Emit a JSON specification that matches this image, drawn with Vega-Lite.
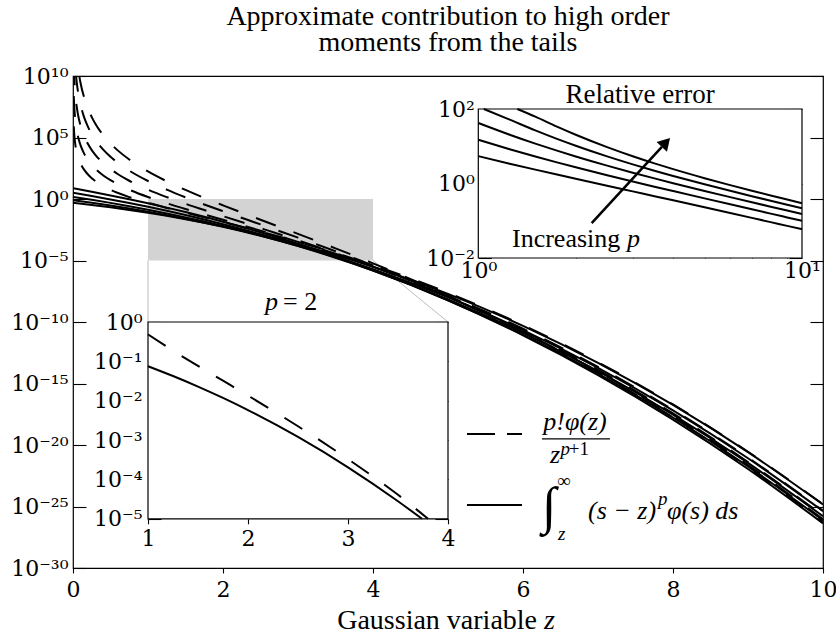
{
"$schema":"https://vega.github.io/schema/vega-lite/v6.json",
"width":750,"height":492,
"autosize":{"type":"none"},
"padding":{"left":73,"top":76,"right":13,"bottom":69},
"background":"white",
"config":{
 "view":{"stroke":"black","strokeWidth":1.2},
 "font":"Liberation Serif",
 "axis":{"labelFont":"DejaVu Serif","labelFontSize":22,"labelColor":"black","tickColor":"black","tickWidth":1.1,"domain":false,"grid":false,"zindex":1,"labelFlush":false,"labelOverlap":false,"labelBound":false},
 "text":{"font":"Liberation Serif","fontSize":26,"color":"black"},
 "title":{"font":"Liberation Serif","fontSize":28,"fontWeight":"normal","color":"black"}
},
"title":{"text":["Approximate contribution to high order","moments from the tails"],"anchor":"middle","frame":"group","offset":-20,"lineHeight":26,"baseline":"bottom"},
"data":{"values":[{}]},
"datasets":{
"mainExact":[
{"z":0,"v":0.5,"p":2},{"z":0.25,"v":0.329709,"p":2},{"z":0.5,"v":0.209639,"p":2},{"z":0.75,"v":0.128253,"p":2},{"z":1,"v":0.07534,"p":2},{"z":1.25,"v":0.042417,"p":2},{"z":1.5,"v":0.022847,"p":2},{"z":1.75,"v":0.011754,"p":2},{"z":2,"v":0.0057687,"p":2},{"z":2.5,"v":0.00119932,"p":2},{"z":3,"v":2.03437e-4,"p":2},{"z":3.5,"v":2.79459e-5,"p":2},{"z":4,"v":3.0902e-6,"p":2},{"z":5,"v":1.93433e-8,"p":2},{"z":6,"v":4.84457e-11,"p":2},{"z":7,"v":4.75846e-14,"p":2},{"z":8,"v":1.80751e-17,"p":2},{"z":9,"v":2.6287e-21,"p":2},{"z":10,"v":1.45293e-25,"p":2},
{"z":0,"v":0.797885,"p":3},{"z":0.25,"v":0.490261,"p":3},{"z":0.5,"v":0.290774,"p":3},{"z":0.75,"v":0.166143,"p":3},{"z":1,"v":0.09129,"p":3},{"z":1.25,"v":0.048153,"p":3},{"z":1.5,"v":0.024343,"p":3},{"z":1.75,"v":0.011778,"p":3},{"z":2,"v":0.005444,"p":3},{"z":2.5,"v":0.00100998,"p":3},{"z":3,"v":1.54003e-4,"p":3},{"z":3.5,"v":1.91514e-5,"p":3},{"z":4,"v":1.92969e-6,"p":3},{"z":5,"v":1.02068e-8,"p":3},{"z":6,"v":2.20393e-11,"p":3},{"z":7,"v":1.8975e-14,"p":3},{"z":8,"v":6.40476e-18,"p":3},{"z":9,"v":8.37151e-22,"p":3},{"z":10,"v":4.19841e-26,"p":3},
{"z":0,"v":1.5,"p":4},{"z":0.25,"v":0.86656,"p":4},{"z":0.5,"v":0.483529,"p":4},{"z":0.75,"v":0.260151,"p":4},{"z":1,"v":0.134728,"p":4},{"z":1.25,"v":0.067059,"p":4},{"z":1.5,"v":0.032027,"p":4},{"z":1.75,"v":0.014651,"p":4},{"z":2,"v":0.0064183,"p":4},{"z":2.5,"v":0.00107303,"p":4},{"z":3,"v":1.48296e-4,"p":4},{"z":3.5,"v":1.6808e-5,"p":4},{"z":4,"v":1.55188e-6,"p":4},{"z":5,"v":6.99569e-9,"p":4},{"z":6,"v":1.31012e-11,"p":4},{"z":7,"v":9.92915e-15,"p":4},{"z":8,"v":2.98736e-18,"p":4},{"z":9,"v":3.51749e-22,"p":4},{"z":10,"v":1.60345e-26,"p":4},
{"z":0,"v":3.19154,"p":5},{"z":0.25,"v":1.744406,"p":5},{"z":0.5,"v":0.92133,"p":5},{"z":0.75,"v":0.469459,"p":5},{"z":1,"v":0.230436,"p":5},{"z":1.25,"v":0.108786,"p":5},{"z":1.5,"v":0.04933,"p":5},{"z":1.75,"v":0.021472,"p":5},{"z":2,"v":0.0089393,"p":5},{"z":2.5,"v":0.00135731,"p":5},{"z":3,"v":1.71125e-4,"p":5},{"z":3.5,"v":1.77773e-5,"p":5},{"z":4,"v":1.51118e-6,"p":5},{"z":5,"v":5.84876e-9,"p":5},{"z":6,"v":9.55037e-12,"p":5},{"z":7,"v":6.39618e-15,"p":5},{"z":8,"v":1.72028e-18,"p":5},{"z":9,"v":1.82866e-22,"p":5},{"z":10,"v":7.5897e-27,"p":5},
{"z":0,"v":7.5,"p":6},{"z":0.25,"v":3.896697,"p":6},{"z":0.5,"v":1.956981,"p":6},{"z":0.75,"v":0.948661,"p":6},{"z":1,"v":0.443204,"p":6},{"z":1.25,"v":0.199313,"p":6},{"z":1.5,"v":0.086143,"p":6},{"z":1.75,"v":0.03568,"p":6},{"z":2,"v":0.0142129,"p":6},{"z":2.5,"v":0.00197185,"p":6},{"z":3,"v":2.28104e-4,"p":6},{"z":3.5,"v":2.18199e-5,"p":6},{"z":4,"v":1.71465e-6,"p":6},{"z":5,"v":5.73463e-9,"p":6},{"z":6,"v":8.20366e-12,"p":6},{"z":7,"v":4.87247e-15,"p":6},{"z":8,"v":1.1746e-18,"p":6},{"z":9,"v":1.12953e-22,"p":6},{"z":10,"v":4.27513e-27,"p":6}
],
"mainApprox":[
{"z":0.01,"v":797900,"p":2},{"z":0.02,"v":99715,"p":2},{"z":0.03,"v":29538,"p":2},{"z":0.05,"v":6375,"p":2},{"z":0.075,"v":1886,"p":2},{"z":0.1,"v":793.9,"p":2},{"z":0.15,"v":233.77,"p":2},{"z":0.2,"v":97.76,"p":2},{"z":0.25,"v":49.49,"p":2},{"z":0.3,"v":28.25,"p":2},{"z":0.4,"v":11.508,"p":2},{"z":0.5,"v":5.633,"p":2},{"z":0.6,"v":3.0854,"p":2},{"z":0.75,"v":1.4276,"p":2},{"z":1,"v":0.48394,"p":2},{"z":1.25,"v":0.18703,"p":2},{"z":1.5,"v":0.076751,"p":2},{"z":1.75,"v":0.032197,"p":2},{"z":2,"v":0.0134977,"p":2},{"z":2.5,"v":0.00224362,"p":2},{"z":3,"v":3.28285e-4,"p":2},{"z":3.5,"v":4.07082e-5,"p":2},{"z":4,"v":4.18219e-6,"p":2},{"z":5,"v":2.37875e-8,"p":2},{"z":6,"v":5.62581e-11,"p":2},{"z":7,"v":5.32637e-14,"p":2},{"z":8,"v":1.97354e-17,"p":2},{"z":9,"v":2.82025e-21,"p":2},{"z":10,"v":1.53892e-25,"p":2},
{"z":0.01,"v":2.39353e8,"p":3},{"z":0.02,"v":1.49573e7,"p":3},{"z":0.03,"v":2.9538e6,"p":3},{"z":0.05,"v":382506,"p":3},{"z":0.075,"v":75438,"p":3},{"z":0.1,"v":23817,"p":3},{"z":0.15,"v":4675.3,"p":3},{"z":0.2,"v":1466.4,"p":3},{"z":0.25,"v":593.92,"p":3},{"z":0.3,"v":282.51,"p":3},{"z":0.4,"v":86.31,"p":3},{"z":0.5,"v":33.798,"p":3},{"z":0.6,"v":15.427,"p":3},{"z":0.75,"v":5.71045,"p":3},{"z":1,"v":1.451824,"p":3},{"z":1.25,"v":0.44888,"p":3},{"z":1.5,"v":0.153503,"p":3},{"z":1.75,"v":0.055194,"p":3},{"z":2,"v":0.0202466,"p":3},{"z":2.5,"v":0.00269236,"p":3},{"z":3,"v":3.28285e-4,"p":3},{"z":3.5,"v":3.48927e-5,"p":3},{"z":4,"v":3.13664e-6,"p":3},{"z":5,"v":1.42725e-8,"p":3},{"z":6,"v":2.81291e-11,"p":3},{"z":7,"v":2.28273e-14,"p":3},{"z":8,"v":7.40078e-18,"p":3},{"z":9,"v":9.40083e-22,"p":3},{"z":10,"v":4.61676e-26,"p":3},
{"z":0.01,"v":9.57413e10,"p":4},{"z":0.02,"v":2.99147e9,"p":4},{"z":0.03,"v":3.9384e8,"p":4},{"z":0.05,"v":3.06005e7,"p":4},{"z":0.075,"v":4.02348e6,"p":4},{"z":0.1,"v":952687,"p":4},{"z":0.15,"v":124675,"p":4},{"z":0.2,"v":29328,"p":4},{"z":0.25,"v":9502.8,"p":4},{"z":0.3,"v":3766.8,"p":4},{"z":0.4,"v":863.13,"p":4},{"z":0.5,"v":270.39,"p":4},{"z":0.6,"v":102.85,"p":4},{"z":0.75,"v":30.4558,"p":4},{"z":1,"v":5.807297,"p":4},{"z":1.25,"v":1.43641,"p":4},{"z":1.5,"v":0.40934,"p":4},{"z":1.75,"v":0.126159,"p":4},{"z":2,"v":0.0404932,"p":4},{"z":2.5,"v":0.0043078,"p":4},{"z":3,"v":4.37713e-4,"p":4},{"z":3.5,"v":3.98774e-5,"p":4},{"z":4,"v":3.13664e-6,"p":4},{"z":5,"v":1.1418e-8,"p":4},{"z":6,"v":1.87527e-11,"p":4},{"z":7,"v":1.30443e-14,"p":4},{"z":8,"v":3.70039e-18,"p":4},{"z":9,"v":4.17811e-22,"p":4},{"z":10,"v":1.8467e-26,"p":4},
{"z":0.01,"v":4.78706e13,"p":5},{"z":0.02,"v":7.47866e11,"p":5},{"z":0.03,"v":6.564e10,"p":5},{"z":0.05,"v":3.06005e9,"p":5},{"z":0.075,"v":2.68226e8,"p":5},{"z":0.1,"v":4.76344e7,"p":5},{"z":0.15,"v":4.15583e6,"p":5},{"z":0.2,"v":733206,"p":5},{"z":0.25,"v":190055,"p":5},{"z":0.3,"v":62780,"p":5},{"z":0.4,"v":10789,"p":5},{"z":0.5,"v":2703.9,"p":5},{"z":0.6,"v":857.06,"p":5},{"z":0.75,"v":203.04,"p":5},{"z":1,"v":29.03649,"p":5},{"z":1.25,"v":5.74564,"p":5},{"z":1.5,"v":1.36447,"p":5},{"z":1.75,"v":0.360454,"p":5},{"z":2,"v":0.1012331,"p":5},{"z":2.5,"v":0.00861547,"p":5},{"z":3,"v":7.29521e-4,"p":5},{"z":3.5,"v":5.6968e-5,"p":5},{"z":4,"v":3.9208e-6,"p":5},{"z":5,"v":1.1418e-8,"p":5},{"z":6,"v":1.56273e-11,"p":5},{"z":7,"v":9.3172e-15,"p":5},{"z":8,"v":2.31274e-18,"p":5},{"z":9,"v":2.32117e-22,"p":5},{"z":10,"v":9.23352e-27,"p":5},
{"z":0.01,"v":2.87224e16,"p":6},{"z":0.02,"v":2.2436e14,"p":6},{"z":0.03,"v":1.3128e13,"p":6},{"z":0.05,"v":3.67206e11,"p":6},{"z":0.075,"v":2.14581e10,"p":6},{"z":0.1,"v":2.85806e9,"p":6},{"z":0.15,"v":1.66233e8,"p":6},{"z":0.2,"v":2.19962e7,"p":6},{"z":0.25,"v":4.56133e6,"p":6},{"z":0.3,"v":1.2556e6,"p":6},{"z":0.4,"v":161837,"p":6},{"z":0.5,"v":32446,"p":6},{"z":0.6,"v":8570.6,"p":6},{"z":0.75,"v":1624.33,"p":6},{"z":1,"v":174.2189,"p":6},{"z":1.25,"v":27.5791,"p":6},{"z":1.5,"v":5.45788,"p":6},{"z":1.75,"v":1.23583,"p":6},{"z":2,"v":0.3036992,"p":6},{"z":2.5,"v":0.020677,"p":6},{"z":3,"v":1.459042e-3,"p":6},{"z":3.5,"v":9.76588e-5,"p":6},{"z":4,"v":5.88121e-6,"p":6},{"z":5,"v":1.37015e-8,"p":6},{"z":6,"v":1.56273e-11,"p":6},{"z":7,"v":7.98634e-15,"p":6},{"z":8,"v":1.73456e-18,"p":6},{"z":9,"v":1.54746e-22,"p":6},{"z":10,"v":5.54011e-27,"p":6}
],
"in1Exact":[{"z":1,"v":0.07534},{"z":1.25,"v":0.042417},{"z":1.5,"v":0.022847},{"z":1.75,"v":0.011754},{"z":2,"v":0.0057687},{"z":2.5,"v":0.00119932},{"z":3,"v":2.03437e-4},{"z":3.5,"v":2.79459e-5},{"z":3.74,"v":1e-5}],
"in1Approx":[{"z":1,"v":0.48394},{"z":1.25,"v":0.18703},{"z":1.5,"v":0.076751},{"z":1.75,"v":0.032197},{"z":2,"v":0.0134977},{"z":2.5,"v":0.00224362},{"z":3,"v":3.28285e-4},{"z":3.5,"v":4.07082e-5},{"z":3.8,"v":1e-5}],
"relerr":[
{"z":1,"r":5.4234,"p":2},{"z":1.25,"r":3.4094,"p":2},{"z":1.5,"r":2.3593,"p":2},{"z":1.75,"r":1.7391,"p":2},{"z":2,"r":1.3398,"p":2},{"z":2.5,"r":0.87075,"p":2},{"z":3,"r":0.61371,"p":2},{"z":3.5,"r":0.45668,"p":2},{"z":4,"r":0.35337,"p":2},{"z":5,"r":0.22976,"p":2},{"z":6,"r":0.16125,"p":2},{"z":7,"r":0.11936,"p":2},{"z":8,"r":0.091855,"p":2},{"z":9,"r":0.072885,"p":2},{"z":10,"r":0.059188,"p":2},
{"z":1,"r":14.903,"p":3},{"z":1.25,"r":8.322,"p":3},{"z":1.5,"r":5.3059,"p":3},{"z":1.75,"r":3.6862,"p":3},{"z":2,"r":2.7191,"p":3},{"z":2.5,"r":1.6658,"p":3},{"z":3,"r":1.1317,"p":3},{"z":3.5,"r":0.82194,"p":3},{"z":4,"r":0.62547,"p":3},{"z":5,"r":0.39834,"p":3},{"z":6,"r":0.27631,"p":3},{"z":7,"r":0.20302,"p":3},{"z":8,"r":0.15551,"p":3},{"z":9,"r":0.12297,"p":3},{"z":10,"r":0.099645,"p":3},
{"z":1,"r":42.104,"p":4},{"z":1.25,"r":20.42,"p":4},{"z":1.5,"r":11.781,"p":4},{"z":1.75,"r":7.6107,"p":4},{"z":2,"r":5.3091,"p":4},{"z":2.5,"r":3.0146,"p":4},{"z":3,"r":1.9516,"p":4},{"z":3.5,"r":1.3725,"p":4},{"z":4,"r":1.0212,"p":4},{"z":5,"r":0.63215,"p":4},{"z":6,"r":0.43137,"p":4},{"z":7,"r":0.31372,"p":4},{"z":8,"r":0.23868,"p":4},{"z":9,"r":0.18782,"p":4},{"z":10,"r":0.1517,"p":4},
{"z":1.04,"r":100,"p":5},{"z":1.25,"r":51.816,"p":5},{"z":1.5,"r":26.66,"p":5},{"z":1.75,"r":15.787,"p":5},{"z":2,"r":10.325,"p":5},{"z":2.5,"r":5.3475,"p":5},{"z":3,"r":3.2631,"p":5},{"z":3.5,"r":2.2045,"p":5},{"z":4,"r":1.5945,"p":5},{"z":5,"r":0.95221,"p":5},{"z":6,"r":0.6363,"p":5},{"z":7,"r":0.45669,"p":5},{"z":8,"r":0.34441,"p":5},{"z":9,"r":0.26934,"p":5},{"z":10,"r":0.21659,"p":5},
{"z":1.32,"r":100,"p":6},{"z":1.5,"r":62.359,"p":6},{"z":1.75,"r":33.637,"p":6},{"z":2,"r":20.368,"p":6},{"z":2.5,"r":9.4862,"p":6},{"z":3,"r":5.3964,"p":6},{"z":3.5,"r":3.4757,"p":6},{"z":4,"r":2.43,"p":6},{"z":5,"r":1.38928,"p":6},{"z":6,"r":0.90492,"p":6},{"z":7,"r":0.63905,"p":6},{"z":8,"r":0.47673,"p":6},{"z":9,"r":0.37,"p":6},{"z":10,"r":0.29589,"p":6}
]
},
"resolve":{"scale":{"x":"independent","y":"independent"},"axis":{"x":"independent","y":"independent"}},
"layer":[
{"layer":[
 {"mark":{"type":"rect","color":"#d3d3d3"},
  "encoding":{
   "x":{"datum":1,"type":"quantitative","scale":{"domain":[0,10],"nice":false,"zero":false},"axis":{"orient":"bottom","values":[0,2,4,6,8,10],"format":"d","tickSize":5,"labelPadding":6,"title":null}},
   "x2":{"datum":4},
   "y":{"datum":1e-5,"type":"quantitative","scale":{"type":"log","domain":[1e-30,1e10],"nice":false},"axis":{"orient":"left","values":[1e-30,1e-25,1e-20,1e-15,1e-10,1e-5,1,1e5,1e10],"tickSize":-13,"labelPadding":18,"title":null,"labelExpr":"datum.value > 1e9 ? '10¹⁰' : datum.value > 1e4 ? '10⁵' : datum.value > 0.1 ? '10⁰' : datum.value > 1e-6 ? '10⁻⁵' : datum.value > 1e-11 ? '10⁻¹⁰' : datum.value > 1e-16 ? '10⁻¹⁵' : datum.value > 1e-21 ? '10⁻²⁰' : datum.value > 1e-26 ? '10⁻²⁵' : '10⁻³⁰'"}},
   "y2":{"datum":1}}},
 {"mark":{"type":"rule","color":"#bcbcbc","strokeWidth":1},"encoding":{"x":{"datum":1},"y":{"datum":1e-5},"x2":{"datum":1},"y2":{"datum":1e-10}}},
 {"mark":{"type":"rule","color":"#bcbcbc","strokeWidth":1},"encoding":{"x":{"datum":4},"y":{"datum":1e-5},"x2":{"datum":5},"y2":{"datum":1e-10}}},
 {"data":{"name":"mainExact"},"mark":{"type":"line","color":"black","strokeWidth":2,"clip":true,"interpolate":"monotone"},
  "encoding":{"x":{"field":"z","type":"quantitative"},"y":{"field":"v","type":"quantitative"},"detail":{"field":"p","type":"nominal"}}},
 {"data":{"name":"mainApprox"},"mark":{"type":"line","color":"black","strokeWidth":2,"clip":true,"interpolate":"monotone","strokeDash":[21,19]},
  "encoding":{"x":{"field":"z","type":"quantitative"},"y":{"field":"v","type":"quantitative"},"detail":{"field":"p","type":"nominal"}}},
 {"mark":{"type":"rule","color":"black","strokeWidth":2,"strokeDash":[28,12]},"encoding":{"x":{"datum":5.253},"x2":{"datum":5.987},"y":{"datum":7.83e-20}}},
 {"mark":{"type":"rule","color":"black","strokeWidth":2},"encoding":{"x":{"datum":5.253},"x2":{"datum":5.987},"y":{"datum":1.32e-25}}},
 {"mark":{"type":"text","text":"p!φ(z)","fontStyle":"italic","align":"center","baseline":"alphabetic"},"encoding":{"x":{"datum":6.693},"y":{"datum":1.66e-19}}},
 {"mark":{"type":"rule","color":"black","strokeWidth":1.3},"encoding":{"x":{"datum":6.253},"x2":{"datum":7.16},"y":{"datum":3.09e-20}}},
 {"mark":{"type":"text","text":"z","fontStyle":"italic","align":"left","baseline":"alphabetic"},"encoding":{"x":{"datum":6.36},"y":{"datum":3.46e-22}}},
 {"mark":{"type":"text","text":"p","fontStyle":"italic","align":"left","baseline":"alphabetic","fontSize":19},"encoding":{"x":{"datum":6.5},"y":{"datum":1.55e-21}}},
 {"mark":{"type":"text","text":"+1","align":"left","baseline":"alphabetic","fontSize":19},"encoding":{"x":{"datum":6.61},"y":{"datum":1.55e-21}}},
 {"mark":{"type":"text","text":"∫","align":"center","baseline":"middle","fontSize":52},"encoding":{"x":{"datum":6.347},"y":{"datum":9.1e-26}}},
 {"mark":{"type":"text","text":"∞","align":"left","baseline":"alphabetic","fontSize":19},"encoding":{"x":{"datum":6.453},"y":{"datum":3.9e-24}}},
 {"mark":{"type":"text","text":"z","fontStyle":"italic","align":"left","baseline":"alphabetic","fontSize":19},"encoding":{"x":{"datum":6.467},"y":{"datum":1.9e-28}}},
 {"mark":{"type":"text","text":"(s − z)","fontStyle":"italic","align":"left","baseline":"alphabetic"},"encoding":{"x":{"datum":6.867},"y":{"datum":1.05e-26}}},
 {"mark":{"type":"text","text":"p","fontStyle":"italic","align":"left","baseline":"alphabetic","fontSize":19},"encoding":{"x":{"datum":7.8},"y":{"datum":1.3e-25}}},
 {"mark":{"type":"text","text":"φ(s) ds","fontStyle":"italic","align":"left","baseline":"alphabetic"},"encoding":{"x":{"datum":7.92},"y":{"datum":1.05e-26}}},
 {"mark":{"type":"text","text":"Gaussian variable","align":"right","baseline":"alphabetic","fontSize":28},"encoding":{"x":{"datum":6.187},"y":{"datum":1.1e-35}}},
 {"mark":{"type":"text","text":"z","fontStyle":"italic","align":"left","baseline":"alphabetic","fontSize":28},"encoding":{"x":{"datum":6.28},"y":{"datum":1.1e-35}}}
]},
{"mark":{"type":"point","opacity":0},
 "encoding":{"y":{"datum":1,"type":"quantitative","scale":{"type":"log","domain":[1e-30,1e10],"nice":false},"axis":{"orient":"right","values":[1e-30,1e-25,1e-20,1e-15,1e-10,1e-5,1,1e5,1e10],"labels":false,"tickSize":-13,"title":null}}}},
{"layer":[
 {"mark":{"type":"rect","fill":"white","stroke":"black","strokeWidth":1.2},
  "encoding":{
   "x":{"datum":1,"type":"quantitative","scale":{"domain":[1,4],"range":[75,375],"nice":false,"zero":false},"axis":{"orient":"bottom","offset":-49.2,"values":[1,2,3,4],"format":"d","tickSize":5,"labelPadding":5,"title":null}},
   "x2":{"datum":4},
   "y":{"datum":1e-5,"type":"quantitative","scale":{"type":"log","domain":[1e-5,1],"range":[442.8,246],"nice":false},"axis":{"orient":"left","offset":-75,"values":[1e-5,1e-4,1e-3,0.01,0.1,1],"tickSize":-13,"labelPadding":19,"title":null,"labelExpr":"datum.value > 0.5 ? '10⁰' : datum.value > 0.05 ? '10⁻¹' : datum.value > 0.005 ? '10⁻²' : datum.value > 5e-4 ? '10⁻³' : datum.value > 5e-5 ? '10⁻⁴' : '10⁻⁵'"}},
   "y2":{"datum":1}}},
 {"data":{"name":"in1Exact"},"mark":{"type":"line","color":"black","strokeWidth":2,"interpolate":"monotone"},"encoding":{"x":{"field":"z","type":"quantitative"},"y":{"field":"v","type":"quantitative"}}},
 {"data":{"name":"in1Approx"},"mark":{"type":"line","color":"black","strokeWidth":2,"interpolate":"monotone","strokeDash":[21,19]},"encoding":{"x":{"field":"z","type":"quantitative"},"y":{"field":"v","type":"quantitative"}}},
 {"mark":{"type":"text","text":"p","fontStyle":"italic","align":"left","baseline":"alphabetic"},"encoding":{"x":{"datum":2.17},"y":{"datum":2.02}}},
 {"mark":{"type":"text","text":"= 2","align":"left","baseline":"alphabetic"},"encoding":{"x":{"datum":2.35},"y":{"datum":2.02}}}
]},
{"mark":{"type":"point","opacity":0},
 "encoding":{"y":{"datum":0.01,"type":"quantitative","scale":{"type":"log","domain":[1e-5,1],"range":[442.8,246],"nice":false},"axis":{"orient":"right","offset":-375,"values":[1e-5,1e-4,1e-3,0.01,0.1,1],"labels":false,"tickSize":-13,"title":null}}}},
{"layer":[
 {"mark":{"type":"rect","fill":"white","stroke":"black","strokeWidth":1.2},
  "encoding":{
   "x":{"datum":1,"type":"quantitative","scale":{"type":"log","domain":[1,10],"range":[405.3,729],"nice":false},"axis":{"orient":"bottom","offset":-310,"values":[1,10],"ticks":false,"tickSize":0,"labelPadding":2,"title":null,"labelExpr":"datum.value > 5 ? '10¹' : '10⁰'"}},
   "x2":{"datum":10},
   "y":{"datum":0.01,"type":"quantitative","scale":{"type":"log","domain":[0.01,100],"range":[182,33],"nice":false},"axis":{"orient":"left","offset":-405.3,"values":[0.01,1,100],"tickSize":-13,"labelPadding":17,"title":null,"labelExpr":"datum.value > 50 ? '10²' : datum.value > 0.5 ? '10⁰' : '10⁻²'"}},
   "y2":{"datum":100}}},
 {"data":{"name":"relerr"},"mark":{"type":"line","color":"black","strokeWidth":2,"interpolate":"monotone"},"encoding":{"x":{"field":"z","type":"quantitative"},"y":{"field":"r","type":"quantitative"},"detail":{"field":"p","type":"nominal"}}},
 {"mark":{"type":"rule","color":"black","strokeWidth":2.5},"encoding":{"x":{"datum":2.24},"y":{"datum":0.0859},"x2":{"datum":3.691},"y2":{"datum":9.66}}},
 {"mark":{"type":"point","shape":"triangle-up","filled":true,"color":"black","opacity":1,"size":200,"angle":42.6},"encoding":{"x":{"datum":3.798},"y":{"datum":12.7}}},
 {"mark":{"type":"text","text":"Increasing","align":"left","baseline":"alphabetic"},"encoding":{"x":{"datum":1.271},"y":{"datum":0.0201}}},
 {"mark":{"type":"text","text":"p","fontStyle":"italic","align":"left","baseline":"alphabetic"},"encoding":{"x":{"datum":2.879},"y":{"datum":0.0201}}},
 {"mark":{"type":"text","text":"Relative error","align":"center","baseline":"alphabetic","fontSize":27},"encoding":{"x":{"datum":3.162},"y":{"datum":148.6}}}
]},
{"mark":{"type":"point","opacity":0},
 "encoding":{
  "x":{"datum":2,"type":"quantitative","scale":{"type":"log","domain":[1,10],"range":[405.3,729],"nice":false},"axis":{"orient":"bottom","offset":-310,"values":[2,3,4,5,6,7,8,9],"labels":false,"tickSize":-4,"title":null}},
  "y":{"datum":1,"type":"quantitative","scale":{"type":"log","domain":[0.01,100],"range":[182,33],"nice":false},"axis":{"orient":"right","offset":-21,"values":[0.01,1,100],"labels":false,"tickSize":-13,"title":null}}}}
]
}
